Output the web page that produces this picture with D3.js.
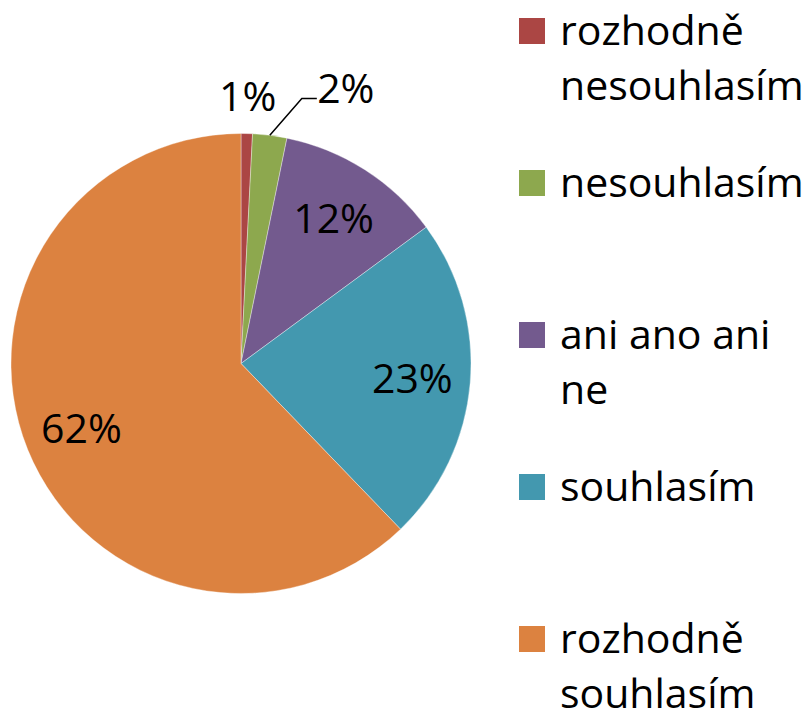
<!DOCTYPE html>
<html>
<head>
<meta charset="utf-8">
<script src="https://cdn.jsdelivr.net/npm/d3@7"></script>
<style>
  body { margin: 0; background: #fff; }
  svg text { font-family: "Open Sans", "Noto Sans", sans-serif; fill: #000; }
</style>
</head>
<body>
<div id="chart"></div>
<script>
const categories = ["rozhodně nesouhlasím", "nesouhlasím", "ani ano ani ne", "souhlasím", "rozhodně souhlasím"];
// legend text wrapped like in the original picture
const legend_lines = [["rozhodně", "nesouhlasím"], ["nesouhlasím"], ["ani ano ani", "ne"], ["souhlasím"], ["rozhodně", "souhlasím"]];
const values = [0.8, 2.4, 11.7, 22.9, 62.2];
const colors = ["#AB4644", "#8DA84E", "#735A8E", "#4398AF", "#DC8240"];

const width = 808, height = 714,
  cx = 241, cy = 363.5, radius = 230,
  font_size = 41;

var svg = d3.select("#chart")
  .append("svg")
    .attr("width", width)
    .attr("height", height);

var pie = d3.pie()
  .sort(null)
  .value(function(d) { return d; });

var arcs = pie(values);
var total = d3.sum(values);

var arc = d3.arc()
  .innerRadius(0)
  .outerRadius(radius);

var g = svg.append("g")
  .attr("transform", "translate(" + cx + "," + cy + ")");

// slices
g.selectAll("path")
  .data(arcs)
  .enter()
  .append("path")
    .attr("d", arc)
    .attr("fill", function(d, i) { return colors[i]; })
    .attr("stroke", "#fff")
    .attr("stroke-width", 0.6)
    .attr("stroke-opacity", 0.6);

// labels: big slices inside, small ones outside (2% gets a leader line)
var inner_label = d3.arc().innerRadius(172).outerRadius(172);
var outer_label = d3.arc().innerRadius(267).outerRadius(267);
var edge_arc = d3.arc().innerRadius(radius).outerRadius(radius);

function label_pos(d, i) {
  if (i == 0) return outer_label.centroid(d);
  if (i == 1) {
    var p = edge_arc.centroid(d);
    return [p[0] + 76, -275];  // pushed up and right, out of the way of 1%
  }
  return inner_label.centroid(d);
}

g.selectAll(".pct")
  .data(arcs)
  .enter()
  .append("text")
    .attr("class", "pct")
    .attr("x", function(d, i) { return label_pos(d, i)[0]; })
    .attr("y", function(d, i) { return label_pos(d, i)[1]; })
    .attr("text-anchor", "middle")
    .attr("dy", "0.36em")
    .style("font-size", font_size + "px")
    .text(function(d) { return Math.round(d.value / total * 100) + "%"; });

// leader line for the 2% slice
var edge = edge_arc.centroid(arcs[1]);
var lbl = label_pos(arcs[1], 1);
g.append("path")
  .attr("d", d3.line()([edge, [edge[0] + 32, lbl[1] + 10], [lbl[0] - 29, lbl[1] + 10]]))
  .attr("fill", "none")
  .attr("stroke", "#000")
  .attr("stroke-width", 1.5);

// legend
var legend_y = d3.scalePoint()
  .domain(categories)
  .range([18, 626]);

var legend = svg.append("g")
  .selectAll("g")
  .data(categories)
  .enter()
  .append("g")
    .attr("transform", function(d) { return "translate(519," + legend_y(d) + ")"; });

legend.append("rect")
  .attr("width", 26)
  .attr("height", 26)
  .attr("fill", function(d, i) { return colors[i]; });

legend.append("text")
  .attr("x", 41)
  .attr("y", 27)
  .style("font-size", font_size + "px")
  .selectAll("tspan")
  .data(function(d, i) { return legend_lines[i]; })
  .enter()
  .append("tspan")
    .attr("x", 41)
    .attr("dy", function(d, j) { return j == 0 ? 0 : 55; })
    .text(function(d) { return d; });
</script>
</body>
</html>
